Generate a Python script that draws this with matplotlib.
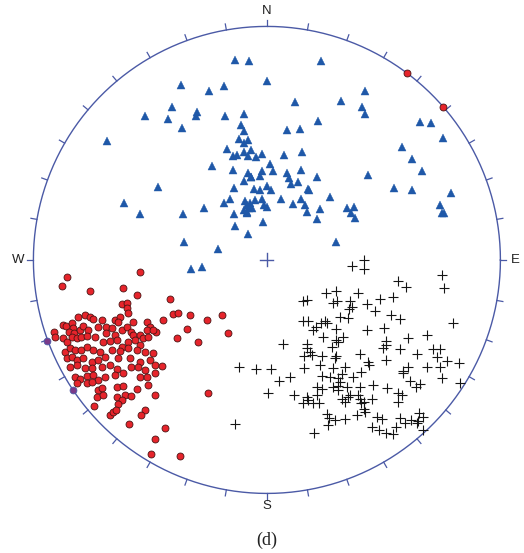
import numpy as np
import matplotlib.pyplot as plt

# 赤平投影坐标，基圆半径 = 100 (x 向东, y 向北)
tri_x = [-13.5, -7.6, 23.1, -36.9, -24.9, -18.5, -0.1, 42.0, 11.9, 31.8,
         -40.7, -52.1, -42.5, -29.9, -30.2, -17.8, -9.7, 40.7, 42.2, -36.5,
         -11.3, -9.9, 8.7, 14.0, 21.9, 65.7, 70.3, -68.4, -12.0, -9.6,
         -8.2, 75.3, 57.7, -17.3, -9.9, -7.0, -14.5, -12.7, -8.2, -4.6,
         -2.0, 7.2, 15.2, 62.0, -23.5, -14.6, 1.3, 2.7, -7.9, -2.0,
         8.4, 14.5, 66.4, -46.8, -9.9, -6.7, -2.9, 0.1, 1.6, 9.6,
         10.5, 13.5, 21.6, 43.4, -13.9, -5.6, -3.0, 17.6, 54.3, 62.0,
         78.9, -61.4, -27.1, -18.2, -15.6, -9.5, -8.4, -7.7, -9.9, -4.9,
         -2.0, -1.3, 0.1, 5.9, 11.0, 14.7, 16.2, 17.0, 22.6, 27.1,
         34.5, 37.1, 35.9, 37.7, 74.3, 74.9, 76.0, -54.4, -36.1, -13.9,
         -8.4, 21.3, -13.5, -1.7, -8.3, -35.5, -20.8, 29.5, -32.4, -27.6,
         -7.3, -8.7, -6.3, -7.0, 18.0]
tri_y = [85.7, 85.0, 85.4, 75.1, 72.4, 74.5, 76.7, 72.4, 67.6, 67.9,
         65.3, 61.8, 60.5, 63.4, 61.5, 61.5, 62.7, 65.3, 62.3, 56.7,
         57.8, 55.2, 55.5, 55.9, 59.6, 59.0, 58.8, 51.0, 51.6, 50.2,
         51.4, 52.0, 48.5, 47.6, 46.4, 47.2, 44.6, 44.9, 44.6, 44.0,
         45.4, 44.9, 46.1, 43.1, 40.4, 38.6, 41.0, 38.0, 37.3, 38.1,
         37.3, 38.6, 38.1, 31.3, 33.6, 35.5, 35.8, 31.6, 29.8, 35.1,
         32.5, 33.4, 35.4, 36.3, 31.0, 30.5, 29.8, 30.4, 31.0, 29.8,
         28.6, 24.5, 22.2, 24.5, 26.0, 25.2, 23.7, 22.2, 21.5, 25.6,
         26.0, 23.7, 22.7, 25.9, 24.0, 26.3, 23.7, 20.7, 21.9, 27.1,
         22.2, 22.5, 20.0, 18.0, 23.7, 20.0, 20.3, 19.5, 19.8, 19.5,
         20.7, 17.7, 14.7, 16.2, 10.9, 7.7, 4.7, 7.7, -3.8, -2.9,
         24.5, 20.3, 22.2, 35.7, 29.9]

red_x = [-87.9, -75.8, -61.5, -55.8, -62.2, -59.8, -59.8, -59.4,
         -80.8, -77.9, -75.8, -74.4, -70.8, -65.1, -63.0, -63.7, -57.2, -51.5, -50.1, -47.5,
         -91.2, -90.8, -87.2, -86.1, -83.6, -82.9, -84.6, -82.6, -80.1, -78.6, -76.5, -72.2,
         -68.7, -66.5, -68.7, -65.1, -62.2, -60.1, -58.4, -57.2, -54.4, -51.5, -48.7,
         -87.2, -85.8, -83.6, -81.5, -79.4, -77.2, -73.7, -70.1, -67.2, -64.4, -62.2, -59.4,
         -56.5, -53.0, -50.8, -54.4,
         -86.5, -84.4, -82.2, -79.4, -77.2, -74.4, -71.5, -66.5, -63.0, -59.4, -55.8, -52.3, -48.7,
         -85.8, -83.6, -81.5, -78.6, -75.1, -72.2, -69.4, -63.7, -58.7, -54.4, -50.1,
         -84.4, -81.5, -77.9, -75.1, -70.8, -67.2, -64.4, -58.0, -55.1, -52.3, -48.0,
         -82.2, -80.1, -77.2, -74.4, -72.2, -69.4, -65.1, -61.5, -54.4, -51.5, -48.0,
         -81.5, -77.2, -75.1, -72.2, -70.8, -64.4, -61.5, -55.8, -50.8,
         -72.9, -70.1, -64.4, -60.8, -58.0, -48.0,
         -85.4, -54.4, -41.5, -44.4, -40.4, -38.2, -32.9, -25.8, -19.4, -16.5,
         -34.4, -38.6, -29.4, -45.1, -62.2, -63.6, -25.1, -73.9, -67.2, -65.8,
         -64.6, -52.2, -53.9, -58.9, -43.6, -47.9, -49.8, -37.2, 59.9, 75.2]
red_y = [-11.0, -13.3, -11.9, -15.0, -18.9, -18.3, -20.7, -22.9,
         -24.3, -23.6, -24.6, -25.4, -25.7, -25.7, -24.6, -26.4, -26.4, -26.4, -28.6, -31.0,
         -31.0, -33.1, -27.9, -28.3, -27.1, -29.3, -30.7, -31.4, -30.0, -28.3, -30.0, -28.6,
         -28.9, -29.3, -31.4, -32.1, -30.0, -28.6, -30.7, -32.1, -32.1, -30.0, -30.0,
         -33.6, -35.0, -32.9, -33.6, -33.1, -32.6, -32.9, -35.0, -34.6, -34.3, -37.1, -35.0,
         -34.3, -33.6, -32.9, -36.4,
         -39.3, -37.9, -38.6, -38.6, -37.1, -38.6, -39.3, -38.6, -38.9, -37.9, -38.6, -39.3, -40.0,
         -42.1, -41.4, -42.9, -42.1, -43.6, -42.9, -41.4, -42.1, -42.1, -43.6, -42.9,
         -45.7, -45.0, -46.4, -46.4, -45.7, -45.0, -46.9, -45.7, -46.0, -47.1, -45.0,
         -50.0, -51.1, -49.7, -49.3, -51.4, -50.0, -49.3, -48.6, -50.0, -50.0, -48.6,
         -52.9, -52.9, -52.1, -55.7, -55.0, -54.3, -54.0, -55.4, -53.6,
         -58.6, -57.9, -58.6, -57.9, -58.3, -57.9,
         -7.4, -5.0, -16.7, -25.7, -23.3, -22.9, -23.6, -25.7, -23.6, -31.1,
         -29.7, -33.6, -35.0, -45.4, -60.0, -61.7, -57.1, -62.4, -66.4, -65.0,
         -64.3, -64.3, -66.4, -70.3, -72.1, -76.9, -83.1, -84.0, 80.0, 65.7]

# 落在基圆上的两个点
rim_x = [-94.1, -83.2]
rim_y = [-34.6, -55.7]

cross_x = [36.5, 41.5, 41.5, 75.1, 75.9, 56.2, 59.4, 25.3, 29.8, 39.1,
           15.6, 17.3, 28.4, 30.1, 35.6, 42.7, 48.4, 54.1, 35.3, 36.3,
           46.4, 53.0, 57.0, 31.3, 34.6, 15.6, 17.7, 24.8, 25.8, 23.1,
           29.6, 19.6, 21.0, 42.7, 50.1, 79.8, 24.1, 29.8, 32.7, 60.5,
           68.4, 7.0, 17.3, 27.7, 51.2, 51.0, 49.8, 57.0, 71.2, 74.1,
           15.9, 18.4, 19.1, 23.8, 29.8, 29.1, 39.8, 43.4, 43.7, 51.0,
           64.1, 72.9, 77.2, 82.4, -11.8, -4.7, 1.6, 16.0, 22.7, 28.4,
           33.4, 40.5, 58.4, 60.5, 68.4, 74.1, 9.9, 5.3, 23.4, 27.0,
           30.6, 31.3, 32.0, 36.7, 58.4, 61.2, 74.8, 82.9, 0.3, 11.6,
           21.3, 23.6, 28.4, 30.6, 34.1, 39.8, 45.3, 51.5, 63.8, 65.5,
           15.3, 17.4, 19.9, 22.4, 21.3, 32.0, 33.4, 35.6, 34.8, 39.1,
           39.8, 44.8, 41.5, 56.2, 57.7, 56.2, 41.5, 42.0, 25.6, 26.7,
           29.1, 33.4, 38.4, 26.3, 47.0, 49.1, 57.0, 59.1, 61.9, 64.8,
           65.2, 66.9, -13.7, 20.3, 44.8, 48.1, 51.2, 54.1, 55.2, 64.1,
           66.7, 17.0, 30.6, 30.6, 17.0, 40.5]
cross_y = [-2.6, 0.0, -4.0, -6.4, -12.1, -8.9, -11.4, -14.3, -13.3, -14.3,
           -17.4, -17.1, -18.6, -17.6, -17.4, -18.9, -16.9, -15.7, -21.1, -20.0,
           -21.7, -23.6, -25.4, -24.3, -25.0, -26.0, -26.0, -26.1, -27.1, -27.1,
           -29.7, -30.0, -28.9, -30.0, -29.0, -27.1, -33.1, -34.3, -32.9, -33.6,
           -32.1, -36.0, -36.1, -37.1, -34.6, -36.4, -37.9, -38.3, -38.3, -38.3,
           -41.1, -39.3, -40.7, -41.1, -41.1, -42.1, -40.3, -43.6, -45.0, -42.9,
           -40.3, -41.7, -43.1, -44.0, -45.7, -46.6, -46.9, -46.1, -45.0, -46.4,
           -45.7, -47.9, -47.4, -45.7, -46.0, -46.0, -50.3, -51.9, -49.7, -50.0,
           -50.7, -52.1, -48.9, -50.3, -48.6, -51.7, -50.7, -52.6, -56.9, -57.9,
           -54.3, -55.4, -54.3, -55.7, -54.3, -54.6, -53.6, -55.0, -54.6, -53.3,
           -61.1, -60.0, -61.1, -61.4, -57.9, -59.7, -60.7, -57.9, -58.9, -57.9,
           -59.7, -59.6, -60.7, -57.1, -57.9, -60.7, -64.0, -65.0, -66.0, -67.9,
           -68.6, -68.3, -66.4, -70.7, -67.4, -68.3, -67.9, -69.7, -68.6, -68.9,
           -65.4, -67.1, -70.3, -74.3, -71.7, -72.9, -74.0, -74.6, -71.4, -70.0,
           -72.9, -37.9, -35.0, -54.0, -58.9, -61.4]

dirs = ['N', 'E', 'S', 'W']

ring = '#4b5aa6'
blue = '#1f58a8'
red = '#e6242b'

fig = plt.figure(figsize=(5.24, 5.53), dpi=100)
ax = fig.add_axes([0, 0, 1, 1])
ax.set_xlim(-114.3, 110.1)
ax.set_ylim(-125.5, 111.3)
ax.set_aspect('equal')
ax.axis('off')

# 基圆和 10° 刻度
t = np.linspace(0, 2 * np.pi, 721)
ax.plot(100 * np.cos(t), 100 * np.sin(t), color=ring, lw=1.0, zorder=2)
for az in np.arange(0, 360, 10):
    a = np.radians(az)
    ax.plot([100 * np.sin(a), 102.6 * np.sin(a)],
            [100 * np.cos(a), 102.6 * np.cos(a)], color=ring, lw=0.9, zorder=2)

# 中心十字
ax.plot([-2.8, 2.8], [0, 0], color=ring, lw=1.0)
ax.plot([0, 0], [-2.8, 2.8], color=ring, lw=1.0)

# 方位标注
pos = {'N': (0, 106.4), 'E': (106.4, 0), 'S': (0, -105.4), 'W': (-106.4, 0)}
for d in dirs:
    ax.text(pos[d][0], pos[d][1], d, ha='center', va='center', fontsize=9.5,
            family='Liberation Sans', color='#222222')

ax.plot(tri_x, tri_y, '^', color=blue, ms=6.3, mec=blue, mew=0.3, ls='none', zorder=3)
ax.plot(red_x, red_y, 'o', color=red, ms=5.0, mec='#4a1414', mew=0.6, ls='none', zorder=3)
ax.plot(rim_x, rim_y, 'o', color='#7a3a8a', ms=4.9, mec=ring, mew=0.6, ls='none', zorder=3)
ax.plot(cross_x, cross_y, '+', color='#151515', ms=6.7, mew=0.8, ls='none', zorder=3)

ax.text(0, -120.3, '(d)', ha='center', va='center', fontsize=13,
        family='Liberation Serif', color='#222222')

fig.savefig('out.png', dpi=100)
